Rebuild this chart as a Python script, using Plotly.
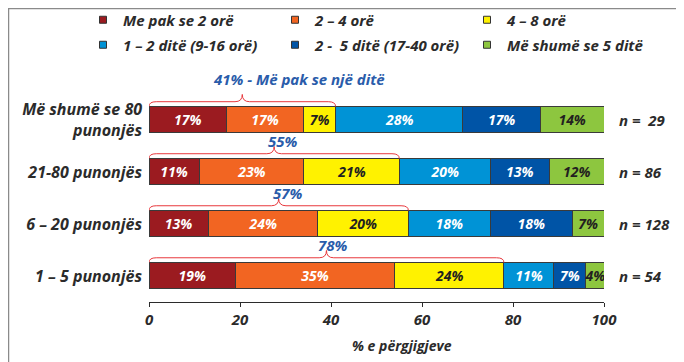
import plotly.graph_objects as go

categories = ["Më shumë se 80<br>punonjës", "21-80 punonjës", "6 – 20 punonjës", "1 – 5 punonjës"]
series_names = ["Me pak se 2 orë", "2 – 4 orë", "4 – 8 orë",
                "1 – 2 ditë (9-16 orë)", "2 -  5 ditë (17-40 orë)", "Më shumë se 5 ditë"]
s_lt2h = [17, 11, 13, 19]
s_2_4h = [17, 23, 24, 35]
s_4_8h = [7, 21, 20, 24]
s_1_2d = [28, 20, 18, 11]
s_2_5d = [17, 13, 18, 7]
s_gt5d = [14, 12, 7, 4]
n_labels = ["n =  29", "n = 86", "n = 128", "n = 54"]
brace_labels = ["41% - Më pak se një ditë", "55%", "57%", "78%"]
x_title = "% e përgjigjeve"

series = [s_lt2h, s_2_4h, s_4_8h, s_1_2d, s_2_5d, s_gt5d]
colors = ["#9b1b20", "#f26522", "#fff200", "#0093d6", "#0054a6", "#8dc63f"]
text_colors = ["white", "white", "#231f20", "white", "white", "#231f20"]
legend_ids = ["legend", "legend", "legend", "legend2", "legend2", "legend2"]

FONT = "Open Sans"
INK = "#2b2b2b"
ypos = [3, 2, 1, 0]

# page body has an 8px margin; figure is sized to fit the window
W, H = 676, 354
PL, PR, PT, PB = 141, 80, 50, 60
PW, PH = W - PL - PR, H - PT - PB


def f(size, color=INK):
    return dict(family=FONT, size=size, color=color, weight="bold", style="italic")


fig = go.Figure()
for name, vals, col, tcol, lg in zip(series_names, series, colors, text_colors, legend_ids):
    fig.add_trace(go.Bar(
        y=ypos, x=vals, name=name, orientation="h",
        marker=dict(color=col, line=dict(color="#3a3a3a", width=1)),
        width=0.5,
        text=[f"{v}%" for v in vals], textposition="inside",
        insidetextanchor="middle", textangle=0, constraintext="none",
        textfont=f(14, tcol),
        showlegend=False, hoverinfo="skip",
    ))
# legend entries with small square keys
for name, col, lg in zip(series_names, colors, legend_ids):
    fig.add_trace(go.Scatter(
        x=[None], y=[None], mode="markers", name=name, legend=lg,
        marker=dict(symbol="square", size=7, color=col, line=dict(color="#333333", width=1)),
        hoverinfo="skip",
    ))

# braces over the first three segments (less than one day)
label_dx = [12.5, 2, 2, 1.5]
label_dy = [0.78, 0.6, 0.6, 0.6]
shapes = []
annotations = []
for i, yc in enumerate(ypos):
    t = s_lt2h[i] + s_2_4h[i] + s_4_8h[i]
    m = t / 2
    dx = 1.6
    ye, yl, yp = yc + 0.26, yc + 0.35, yc + 0.49
    path = (f"M 0,{ye} Q 0,{yl} {dx},{yl} L {m-dx},{yl} Q {m},{yl} {m},{yp} "
            f"Q {m},{yl} {m+dx},{yl} L {t-dx},{yl} Q {t},{yl} {t},{ye}")
    shapes.append(dict(type="path", path=path, xref="x", yref="y",
                       line=dict(color="#e8383d", width=1)))
    annotations.append(dict(x=m + label_dx[i], y=yc + label_dy[i], xref="x", yref="y",
                            text=brace_labels[i], showarrow=False, font=f(15, "#2a5caa")))
    annotations.append(dict(x=100, y=yc, xref="x", yref="y", xanchor="left", xshift=13,
                            text=n_labels[i], showarrow=False, font=f(15)))

# x-axis title (offset to the right, as in the original)
annotations.append(dict(x=(402 - 149) / 455, y=(PT + PH - 337) / PH, xref="paper", yref="paper",
                        xanchor="center", yanchor="middle",
                        text=x_title, showarrow=False, font=f(14)))

# outer frame
shapes.append(dict(type="rect", xref="paper", yref="paper",
                   x0=(0 - PL) / PW, x1=(W + 20 - PL) / PW,
                   y0=(PH + PT - (H + 20)) / PH, y1=(PH + PT - 0) / PH,
                   line=dict(color="#8a8a8a", width=2.5), fillcolor="rgba(0,0,0,0)", layer="below"))

leg_x = -66 / PW
fig.update_layout(
    width=W, height=H,
    margin=dict(l=PL, r=PR, t=PT, b=PB, autoexpand=False),
    paper_bgcolor="white", plot_bgcolor="white",
    barmode="stack",
    font=dict(family=FONT, color=INK),
    xaxis=dict(range=[0, 100], tickvals=[0, 20, 40, 60, 80, 100], showgrid=False, zeroline=False,
               showline=True, linecolor=INK, linewidth=1, ticks="outside", ticklen=4,
               tickcolor=INK, tickfont=f(15)),
    yaxis=dict(range=[-0.5, 4.19], tickvals=ypos, ticktext=categories, showgrid=False,
               zeroline=False, showline=False, ticks="", ticklabelstandoff=6,
               tickfont=f(16)),
    legend=dict(orientation="h", x=leg_x, xanchor="left", y=(PH + PT - 12) / PH, yanchor="middle",
                entrywidth=147, entrywidthmode="pixels", font=f(15), traceorder="normal",
                bgcolor="rgba(0,0,0,0)"),
    legend2=dict(orientation="h", x=leg_x, xanchor="left", y=(PH + PT - 37) / PH, yanchor="middle",
                 entrywidth=147, entrywidthmode="pixels", font=f(15), traceorder="normal",
                 bgcolor="rgba(0,0,0,0)"),
    shapes=shapes, annotations=annotations,
    showlegend=True,
)

fig.write_html("out.html")
